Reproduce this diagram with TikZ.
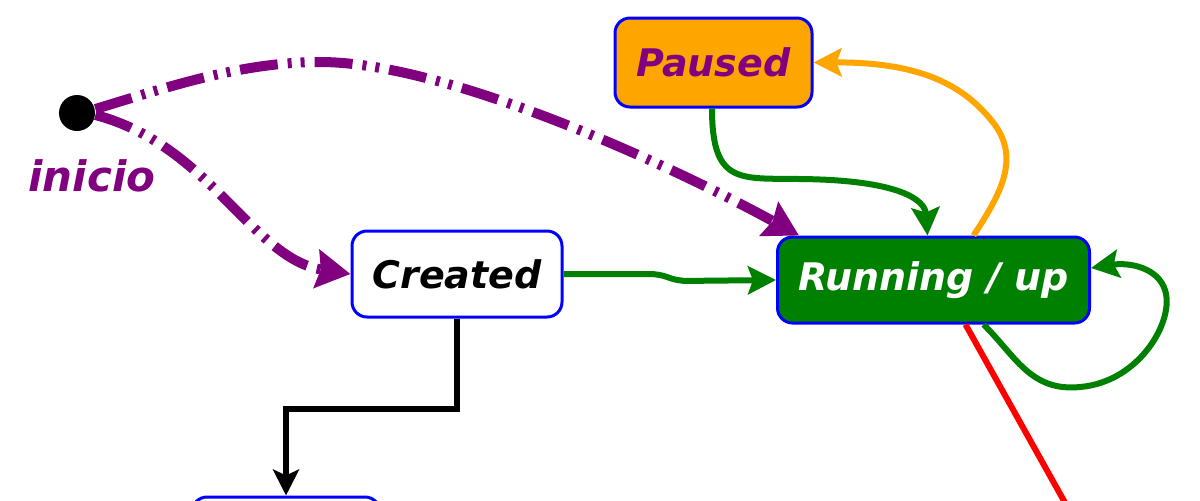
\documentclass[tikz,border=0pt]{standalone}
\usepackage{fontspec}
\setmainfont{DejaVu Sans}
\usepackage{tikz}
\usetikzlibrary{arrows.meta}
\definecolor{stgreen}{RGB}{0,128,0}
\definecolor{stpurple}{RGB}{128,0,128}
\definecolor{storange}{RGB}{255,165,0}
\definecolor{stblue}{RGB}{0,0,255}
\definecolor{stred}{RGB}{255,0,0}

\begin{document}
\begin{tikzpicture}[x=0.5pt, y=-0.5pt,
    state/.style={draw=stblue, line width=1.5pt, rounded corners=7.5pt, fill=white,
        minimum height=43pt, inner sep=0pt,
        font=\fontsize{19}{22}\selectfont\bfseries\itshape},
    trans/.style={line width=3pt, -{Stealth[length=14pt, width=14pt, inset=2.5pt]}},
    initflow/.style={stpurple, line width=5pt,
        dash pattern=on 19pt off 5pt on 2pt off 4.5pt on 2pt off 5pt,
        -{Stealth[length=17pt, width=19pt, inset=2pt]}}]
        \useasboundingbox (0,0) rectangle (1200,500);
        \clip (0,0) rectangle (1200,500);

        % Initial point
        \node[circle, fill=black, minimum size=18pt, inner sep=0pt] (init) at (77,113) {};
        \node[stpurple, font=\fontsize{21}{24}\selectfont\bfseries\itshape] (initlabel) at (92,176) {inicio};

        % States
        \node[state, minimum width=105pt] (created) at (457,274) {Created};
        \node[state, fill=stgreen, text=white, minimum width=156pt] (running) at (933.5,280) {Running / up};
        \node[state, fill=storange, text=stpurple, minimum width=98.5pt, minimum height=44.5pt] (paused) at (713.5,62.5) {Paused};
        \node[state, minimum width=94pt, minimum height=44pt] (lower) at (286,541) {};
        \coordinate (redend) at (1097,560);

        % Start transitions
        \draw[initflow] ([yshift=2pt]init.east) .. controls (165,88) and (240,62) .. (320,62)
            .. controls (450,62) and (680,170) .. ([xshift=11.5pt]running.north west);
        \draw[initflow] ([yshift=-1pt]init.east) .. controls (210,145) and (252,259) .. (created.west);

        % Transitions between states
        \draw[trans, stgreen, rounded corners=4pt] (created.east) -- ++(95,0) -- ++(20,7) -- (running.west);
        \draw[trans, stgreen] ([xshift=-0.75pt]paused.south) .. controls (712,185) and (740,178) .. (800,179)
            .. controls (900,180) and (925,200) .. ([xshift=-3pt]running.north);
        \draw[trans, storange] ([xshift=20pt]running.north) .. controls (1000,195) and (1020,160) .. (995,125)
            .. controls (965,85) and (920,62) .. (paused.east);
        \draw[trans, stgreen] ([xshift=25pt]running.south) .. controls (1015,355) and (1030,392) .. (1080,387)
            .. controls (1140,382) and (1175,320) .. (1165,290)
            .. controls (1158,268) and (1130,262) .. ([yshift=6pt]running.east);
        \draw[line width=3pt, stred] ([xshift=16pt]running.south) -- (redend);
        \draw[line width=3pt, -{Stealth[length=13pt, width=13pt, inset=3pt]}] (created.south) -- ++(0,90) -| (lower.north);
\end{tikzpicture}
\end{document}
